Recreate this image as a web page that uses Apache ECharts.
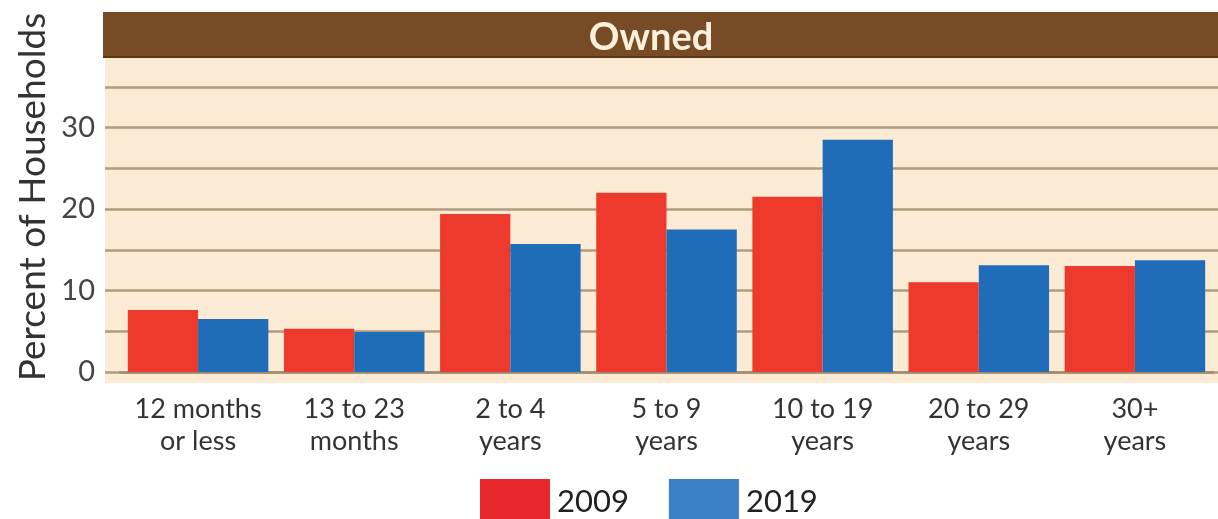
<!DOCTYPE html>
<html><head><meta charset="utf-8">
<script src="https://cdn.jsdelivr.net/npm/echarts@6/dist/echarts.min.js"></script>
<style>html,body{margin:0;padding:0;background:#fff}#c{width:1218px;height:519px}</style>
</head><body><div id="c"></div>
<script>
const categories = ['12 months\nor less','13 to 23\nmonths','2 to 4\nyears','5 to 9\nyears','10 to 19\nyears','20 to 29\nyears','30+\nyears'];
const values2009 = [7.6, 5.3, 19.4, 22.0, 21.5, 11.0, 13.0];
const values2019 = [6.5, 4.9, 15.7, 17.5, 28.5, 13.1, 13.7];
const yTickLabels = [0, 10, 20, 30];
const seriesNames = ['2009', '2019'];
const panelTitle = 'Owned';
const yAxisTitle = 'Percent of Households';

const FONT = 'Lato';
const chart = echarts.init(document.getElementById('c'), null, {renderer:'canvas'});
chart.setOption({
  animation: false,
  textStyle: {fontFamily: FONT},
  grid: [
    {left: 105, right: 0, top: 46, bottom: 147, show: true, backgroundColor: '#fcebd4', borderWidth: 0},
    {left: 120, right: 5, top: 46, bottom: 147}
  ],
  xAxis: [
    {gridIndex: 0, type: 'value', min: 0, max: 1, show: false},
    {gridIndex: 1, type: 'category', data: categories,
      axisLine: {show: true, lineStyle: {color: '#a08c70', width: 2.5}},
      axisTick: {show: false},
      axisLabel: {color: '#333', fontSize: 27, lineHeight: 32, margin: 21, fontFamily: FONT, interval: 0}
    }
  ],
  yAxis: [
    {gridIndex: 0, type: 'value', min: 0, max: 40, interval: 5,
      axisLine: {show: false}, axisTick: {show: false}, axisLabel: {show: false},
      splitLine: {show: true, lineStyle: {color: '#b09b7f', width: 2.5}}
    },
    {gridIndex: 1, type: 'value', min: 0, max: 40, interval: 5,
      axisLine: {show: false}, axisTick: {show: false},
      splitLine: {show: false},
      axisLabel: {color: '#444', fontSize: 29, margin: 25, fontFamily: FONT,
        formatter: v => yTickLabels.includes(v) ? String(v) : ''}
    }
  ],
  legend: {
    top: 474, left: 475, itemWidth: 70, itemHeight: 46, itemGap: 40,
    icon: 'rect',
    textStyle: {fontSize: 31, color: '#222', fontFamily: FONT, padding: [0,0,0,2]},
    data: [
      {name: seriesNames[0], itemStyle: {color: '#e8282d'}},
      {name: seriesNames[1], itemStyle: {color: '#3b80c6'}}
    ]
  },
  graphic: [
    {type: 'rect', shape: {x: 105, y: 373, width: 1113, height: 10}, style: {fill: '#fcebd4'}, silent: true},
    {type: 'rect', shape: {x: 103, y: 12, width: 1115, height: 46}, style: {fill: '#764b25'}, z: 100},
    {type: 'rect', shape: {x: 103, y: 56, width: 1115, height: 2}, style: {fill: '#5a3818'}, z: 101},
    {type: 'text', x: 651, y: 38, z: 102,
      style: {text: panelTitle, fill: '#fbf0dc', font: 'bold 38px ' + FONT, textAlign: 'center', textVerticalAlign: 'middle'}},
    {type: 'text', x: 33, y: 197, rotation: Math.PI / 2, z: 102,
      style: {text: yAxisTitle, fill: '#333', font: '37px ' + FONT, textAlign: 'center', textVerticalAlign: 'middle'}}
  ],
  series: [
    {name: seriesNames[0], type: 'bar', xAxisIndex: 1, yAxisIndex: 1, data: values2009,
      barGap: '0%', barCategoryGap: '10%', itemStyle: {color: '#ee3a2d'}},
    {name: seriesNames[1], type: 'bar', xAxisIndex: 1, yAxisIndex: 1, data: values2019,
      barGap: '0%', barCategoryGap: '10%', itemStyle: {color: '#1f6db9'}}
  ]
});
</script></body></html>
